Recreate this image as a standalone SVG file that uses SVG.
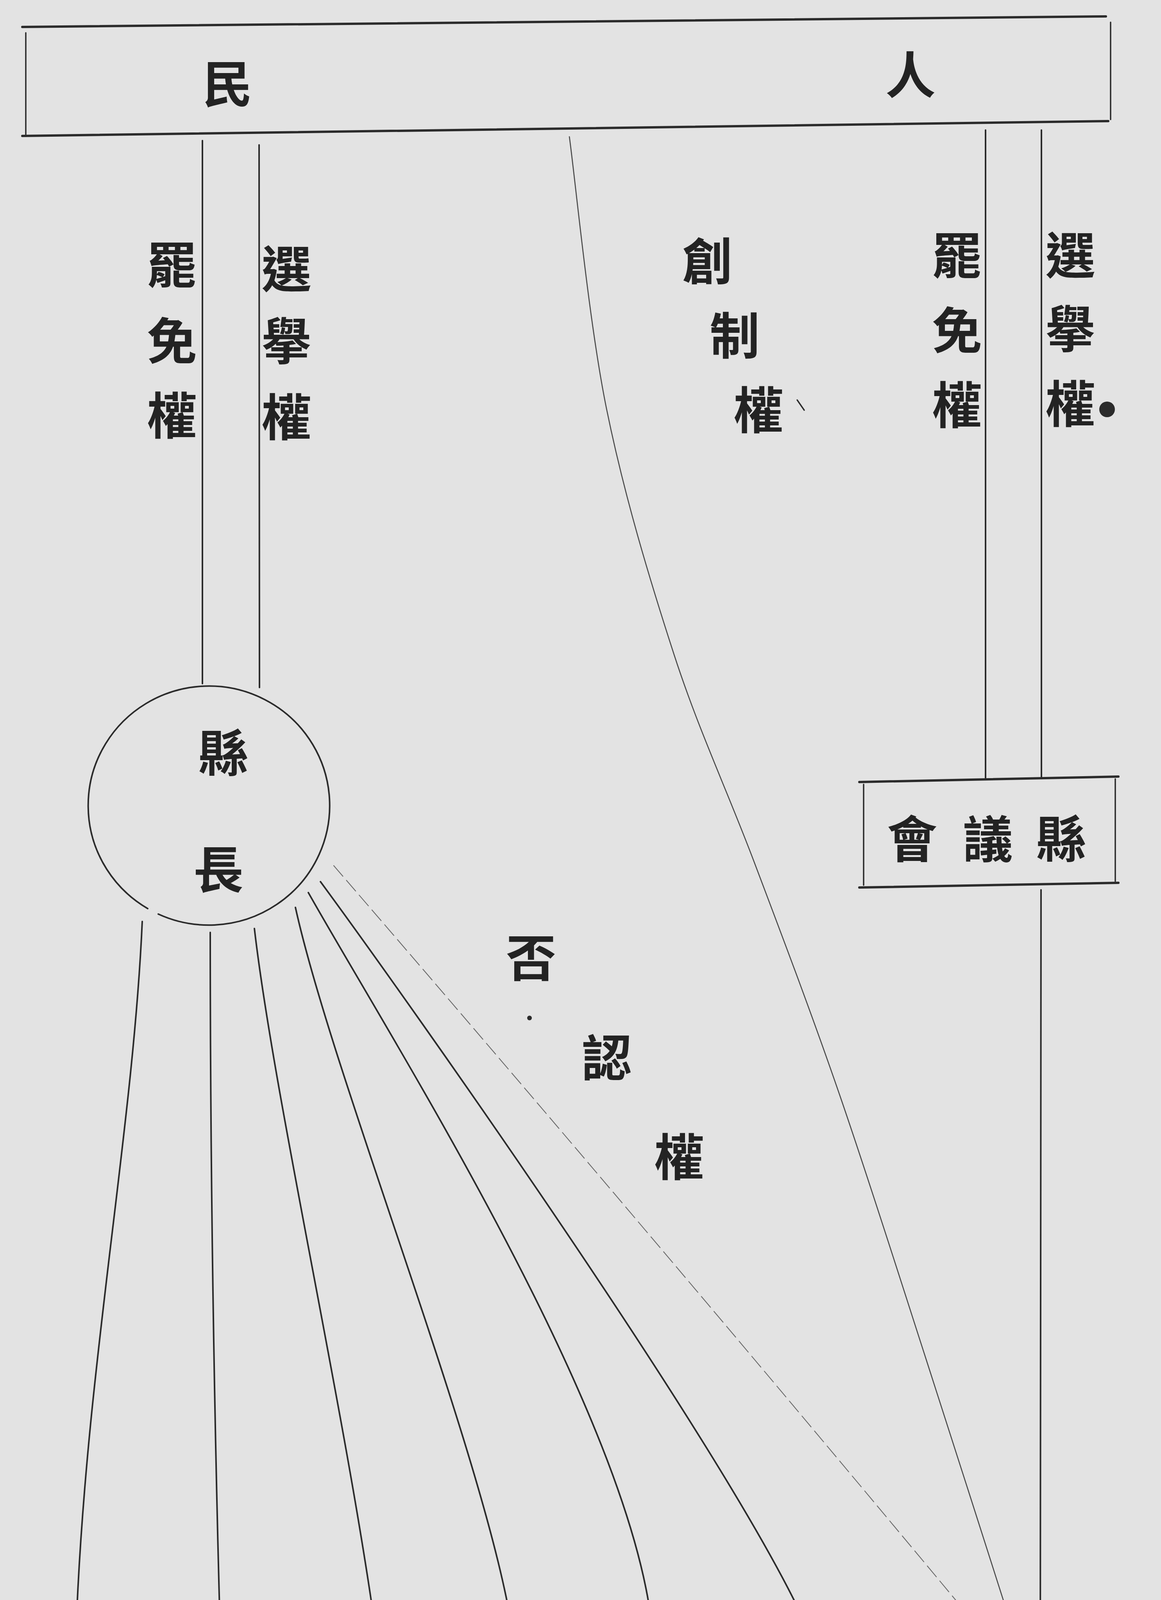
<svg xmlns="http://www.w3.org/2000/svg" width="2971" height="5079" viewBox="0 0 2971 5079">
<style>
.bg{fill:#e3e3e3}
.ln{fill:none;stroke:#2b2b2b;stroke-width:4;stroke-linecap:round}
.thick{fill:none;stroke:#2b2b2b;stroke-width:6;stroke-linecap:round}
.side{fill:none;stroke:#2b2b2b;stroke-width:3.5;stroke-linecap:round}
.thin{fill:none;stroke:#484848;stroke-width:2.6;stroke-linecap:round}
.faint{fill:none;stroke:#6a6a6a;stroke-width:2.2;stroke-dasharray:36 14;stroke-linecap:round}
.t{font-family:"Noto Sans CJK TC","Noto Sans CJK JP","Noto Sans CJK SC",sans-serif;font-size:128px;font-weight:700;fill:#232323;text-anchor:middle;dominant-baseline:central}
.tb{font-family:"Noto Sans CJK TC","Noto Sans CJK JP","Noto Sans CJK SC",sans-serif;font-size:124px;font-weight:500;fill:#232323;text-anchor:middle;dominant-baseline:central}
.speck{fill:#2b2b2b}
</style>
<rect class="bg" x="0" y="0" width="2971" height="5079"/>

<g id="people">
  <line class="thick" x1="57" y1="69" x2="2830" y2="42"/>
  <line class="thick" x1="57" y1="348" x2="2836" y2="310"/>
  <line class="side" x1="66" y1="84" x2="66" y2="344"/>
  <line class="side" x1="2842" y1="57" x2="2842" y2="306"/>
  <text class="t" x="582" y="207">民</text>
  <text class="t" x="2330" y="184">人</text>
</g>

<g id="connectors">
  <!-- people to magistrate -->
  <line class="ln" x1="518" y1="360" x2="518" y2="1750"/>
  <line class="ln" x1="663" y1="371" x2="664" y2="1760"/>
  <!-- people to council -->
  <line class="ln" x1="2522" y1="333" x2="2522" y2="1992"/>
  <line class="ln" x1="2665" y1="333" x2="2665" y2="1990"/>
  <!-- council to ordinances -->
  <line class="ln" x1="2664" y1="2278" x2="2662" y2="4309"/>
  <!-- initiative: people to ordinances -->
  <path class="thin" d="M1457,350 C1473,466 1507,825 1552,1046 C1597,1267 1662,1482 1725,1676 C1788,1870 1859,2019 1930,2207 C2001,2395 2076,2592 2149,2804 C2222,3016 2290,3232 2370,3480 C2450,3728 2587,4157 2630,4292"/>
  <!-- veto: magistrate to ordinances -->
  <path class="faint" d="M854,2216 Q1720,3220 2604,4287"/>
  <!-- magistrate to bureaus -->
  <path class="ln" d="M364,2359 C340,2900 220,3500 195,4165"/>
  <path class="ln" d="M538,2387 C538,2900 545,3500 563,4160"/>
  <path class="ln" d="M651,2377 C700,2800 880,3600 959,4160"/>
  <path class="ln" d="M756,2323 C850,2750 1230,3700 1307,4150"/>
  <path class="ln" d="M789,2285 C1000,2660 1600,3600 1667,4152"/>
  <path class="ln" d="M820,2257 C1050,2570 1850,3700 2057,4148"/>
</g>

<g id="labels">
  <text class="t"><tspan x="440" y="670">罷</tspan><tspan x="440" y="865">免</tspan><tspan x="440" y="1056">權</tspan></text>
  <text class="t"><tspan x="733" y="681">選</tspan><tspan x="733" y="865">擧</tspan><tspan x="733" y="1060">權</tspan></text>
  <text class="t"><tspan x="1810" y="661">創</tspan><tspan x="1880" y="851">制</tspan><tspan x="1941" y="1042">權</tspan></text>
  <text class="t"><tspan x="2449" y="646">罷</tspan><tspan x="2449" y="838">免</tspan><tspan x="2449" y="1029">權</tspan></text>
  <text class="t"><tspan x="2739" y="646">選</tspan><tspan x="2739" y="834">擧</tspan><tspan x="2739" y="1026">權</tspan></text>
  <text class="t"><tspan x="1359" y="2444">否</tspan><tspan x="1553" y="2700">認</tspan><tspan x="1738" y="2954">權</tspan></text>
  <circle class="speck" cx="1355" cy="2606" r="6"/>
  <circle class="speck" cx="2833" cy="1048" r="20"/>
  <line class="side" x1="2040" y1="1024" x2="2058" y2="1050"/>
</g>

<g id="magistrate">
  <path class="ln" d="M405,2340 A309,306 0 1 0 378,2326"/>
  <text class="t"><tspan x="572" y="1920">縣</tspan><tspan x="559" y="2218">長</tspan></text>
</g>

<g id="council">
  <line class="thick" x1="2199" y1="2002" x2="2862" y2="1988"/>
  <line class="thick" x1="2199" y1="2272" x2="2862" y2="2260"/>
  <line class="side" x1="2210" y1="2008" x2="2210" y2="2266"/>
  <line class="side" x1="2854" y1="1994" x2="2854" y2="2256"/>
  <text class="t" x="2334" y="2140">會</text>
  <text class="t" x="2528" y="2140">議</text>
  <text class="t" x="2716" y="2140">縣</text>
</g>

<g id="ordinances">
  <path class="ln" d="M2927,4520 C2870,4400 2770,4321 2655,4321 C2500,4321 2373,4450 2373,4612 C2373,4780 2500,4906 2651,4906 C2830,4906 2962,4760 2962,4566"/>
  <text class="t"><tspan x="2654" y="4470">法</tspan><tspan x="2656" y="4765">令</tspan></text>
</g>

<g id="bureau-public-utilities">
  <line class="thick" x1="57" y1="4185" x2="341" y2="4182"/>
  <line class="side" x1="66" y1="4192" x2="66" y2="5079"/>
  <line class="side" x1="337" y1="4190" x2="337" y2="5079"/>
  <text class="tb"><tspan x="199" y="4325">公</tspan><tspan x="199" y="4650">用</tspan><tspan x="199" y="4957">局</tspan></text>
</g>
<g id="bureau-public-security">
  <line class="thick" x1="421" y1="4180" x2="706" y2="4178"/>
  <line class="side" x1="432" y1="4188" x2="432" y2="5079"/>
  <line class="side" x1="701" y1="4186" x2="701" y2="5079"/>
  <text class="tb"><tspan x="564" y="4321">公</tspan><tspan x="564" y="4648">安</tspan><tspan x="564" y="4960">局</tspan></text>
</g>
<g id="bureau-finance">
  <line class="thick" x1="790" y1="4177" x2="1061" y2="4176"/>
  <line class="side" x1="796" y1="4185" x2="796" y2="5079"/>
  <line class="side" x1="1057" y1="4184" x2="1057" y2="5079"/>
  <text class="tb"><tspan x="924" y="4311">財</tspan><tspan x="924" y="4637">政</tspan><tspan x="924" y="4955">局</tspan></text>
</g>
<g id="bureau-public-welfare">
  <line class="thick" x1="1145" y1="4172" x2="1426" y2="4170"/>
  <line class="side" x1="1152" y1="4180" x2="1152" y2="5064"/>
  <line class="side" x1="1421" y1="4178" x2="1421" y2="5064"/>
  <line class="thick" x1="1145" y1="5068" x2="1426" y2="5068"/>
  <text class="tb"><tspan x="1284" y="4315">公</tspan><tspan x="1284" y="4638">益</tspan><tspan x="1284" y="4947">局</tspan></text>
</g>
<g id="bureau-public-works">
  <line class="thick" x1="1510" y1="4167" x2="1795" y2="4165"/>
  <line class="side" x1="1516" y1="4175" x2="1516" y2="5064"/>
  <line class="side" x1="1791" y1="4173" x2="1791" y2="5064"/>
  <line class="thick" x1="1510" y1="5068" x2="1795" y2="5068"/>
  <text class="tb"><tspan x="1653" y="4309">公</tspan><tspan x="1653" y="4627">務</tspan><tspan x="1653" y="4943">局</tspan></text>
</g>
<g id="bureau-law-enforcement">
  <line class="thick" x1="1882" y1="4164" x2="2183" y2="4161"/>
  <line class="side" x1="1890" y1="4172" x2="1890" y2="5064"/>
  <line class="side" x1="2160" y1="4170" x2="2160" y2="5064"/>
  <line class="thick" x1="1882" y1="5068" x2="2183" y2="5068"/>
  <text class="tb"><tspan x="2023" y="4306">執</tspan><tspan x="2023" y="4630">法</tspan><tspan x="2023" y="4942">局</tspan></text>
</g>
</svg>
